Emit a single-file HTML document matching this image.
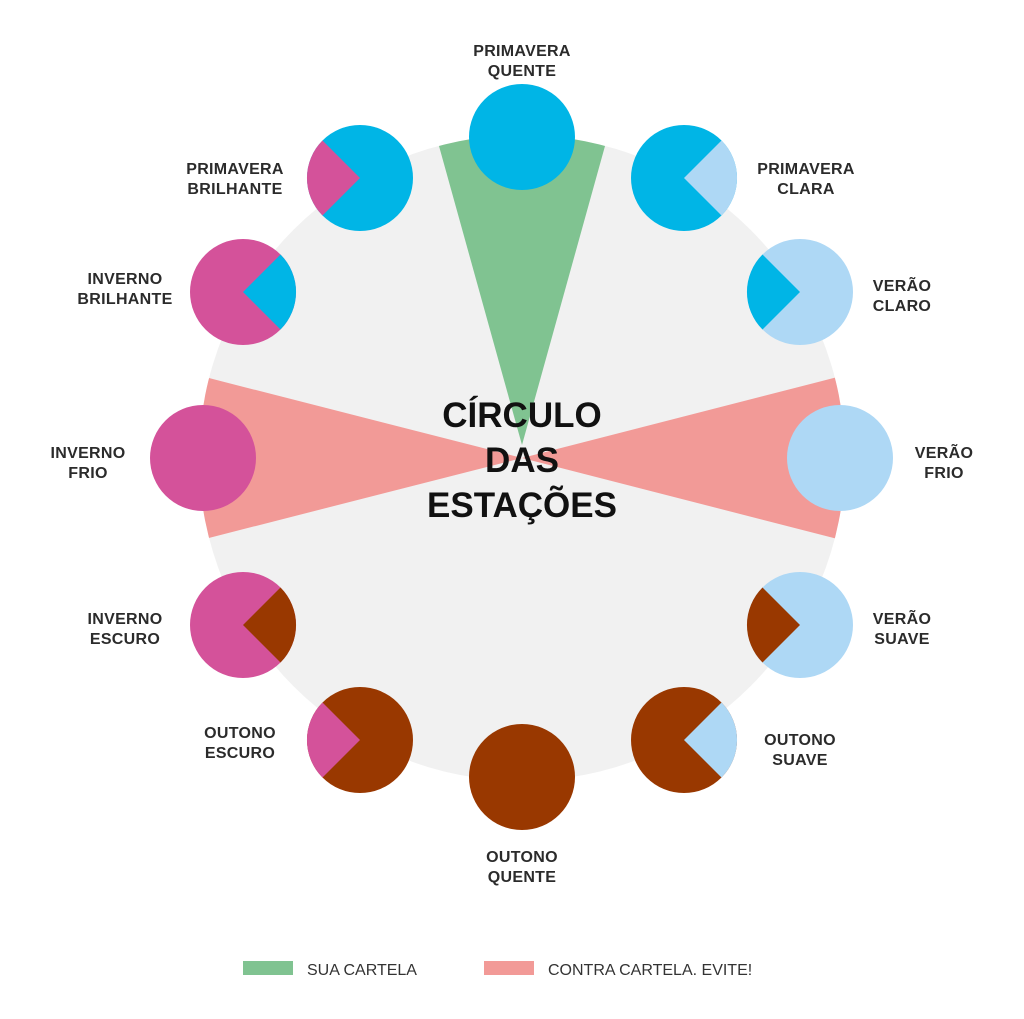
<!DOCTYPE html>
<html><head><meta charset="utf-8"><style>
html,body{margin:0;padding:0;background:#fff;}
svg{display:block;}
.l{font-family:"Liberation Sans",sans-serif;font-weight:bold;font-size:16px;fill:#2b2b2b;text-anchor:middle;letter-spacing:0.3px;}
.t{font-family:"Liberation Sans",sans-serif;font-weight:bold;font-size:35px;fill:#111;text-anchor:middle;}
.g{font-family:"Liberation Sans",sans-serif;font-size:16px;fill:#333;}
</style></head><body>
<svg width="1024" height="1019" viewBox="0 0 1024 1019" xmlns="http://www.w3.org/2000/svg">
<defs><clipPath id="bc"><circle cx="522" cy="458" r="323"/></clipPath></defs>
<circle cx="522" cy="458" r="323" fill="#f1f1f1"/>
<g clip-path="url(#bc)">
<polygon points="522,445 429,110 615,110" fill="#80c391"/>
<polygon points="522,458 150,363 150,553" fill="#f29a97"/>
<polygon points="522,458 900,361 900,555" fill="#f29a97"/>
</g>
<!-- Primavera Quente -->
<circle cx="522" cy="137" r="53" fill="#00b5e6"/>
<!-- Primavera Clara -->
<circle cx="684" cy="178" r="53" fill="#00b5e6"/>
<path d="M684 178 L721.5 140.5 A53 53 0 0 1 721.5 215.5 Z" fill="#aed8f5"/>
<!-- Verão Claro -->
<circle cx="800" cy="292" r="53" fill="#aed8f5"/>
<path d="M800 292 L762.5 329.5 A53 53 0 0 1 762.5 254.5 Z" fill="#00b5e6"/>
<!-- Verão Frio -->
<circle cx="840" cy="458" r="53" fill="#aed8f5"/>
<!-- Verão Suave -->
<circle cx="800" cy="625" r="53" fill="#aed8f5"/>
<path d="M800 625 L762.5 662.5 A53 53 0 0 1 762.5 587.5 Z" fill="#993800"/>
<!-- Outono Suave -->
<circle cx="684" cy="740" r="53" fill="#993800"/>
<path d="M684 740 L721.5 702.5 A53 53 0 0 1 721.5 777.5 Z" fill="#aed8f5"/>
<!-- Outono Quente -->
<circle cx="522" cy="777" r="53" fill="#993800"/>
<!-- Outono Escuro -->
<circle cx="360" cy="740" r="53" fill="#993800"/>
<path d="M360 740 L322.5 777.5 A53 53 0 0 1 322.5 702.5 Z" fill="#d4529a"/>
<!-- Inverno Escuro -->
<circle cx="243" cy="625" r="53" fill="#d4529a"/>
<path d="M243 625 L280.5 587.5 A53 53 0 0 1 280.5 662.5 Z" fill="#993800"/>
<!-- Inverno Frio -->
<circle cx="203" cy="458" r="53" fill="#d4529a"/>
<!-- Inverno Brilhante -->
<circle cx="243" cy="292" r="53" fill="#d4529a"/>
<path d="M243 292 L280.5 254.5 A53 53 0 0 1 280.5 329.5 Z" fill="#00b5e6"/>
<!-- Primavera Brilhante -->
<circle cx="360" cy="178" r="53" fill="#00b5e6"/>
<path d="M360 178 L322.5 215.5 A53 53 0 0 1 322.5 140.5 Z" fill="#d4529a"/>

<text class="t" x="522" y="427">CÍRCULO</text>
<text class="t" x="522" y="472">DAS</text>
<text class="t" x="522" y="517">ESTAÇÕES</text>

<text class="l" x="522" y="56">PRIMAVERA</text><text class="l" x="522" y="76">QUENTE</text>
<text class="l" x="806" y="174">PRIMAVERA</text><text class="l" x="806" y="194">CLARA</text>
<text class="l" x="902" y="291">VERÃO</text><text class="l" x="902" y="311">CLARO</text>
<text class="l" x="944" y="458">VERÃO</text><text class="l" x="944" y="478">FRIO</text>
<text class="l" x="902" y="624">VERÃO</text><text class="l" x="902" y="644">SUAVE</text>
<text class="l" x="800" y="745">OUTONO</text><text class="l" x="800" y="765">SUAVE</text>
<text class="l" x="522" y="862">OUTONO</text><text class="l" x="522" y="882">QUENTE</text>
<text class="l" x="240" y="738">OUTONO</text><text class="l" x="240" y="758">ESCURO</text>
<text class="l" x="125" y="624">INVERNO</text><text class="l" x="125" y="644">ESCURO</text>
<text class="l" x="88" y="458">INVERNO</text><text class="l" x="88" y="478">FRIO</text>
<text class="l" x="125" y="284">INVERNO</text><text class="l" x="125" y="304">BRILHANTE</text>
<text class="l" x="235" y="174">PRIMAVERA</text><text class="l" x="235" y="194">BRILHANTE</text>

<rect x="243" y="961" width="50" height="14" fill="#80c391"/>
<text class="g" x="307" y="975">SUA CARTELA</text>
<rect x="484" y="961" width="50" height="14" fill="#f29a97"/>
<text class="g" x="548" y="975">CONTRA CARTELA. EVITE!</text>
</svg>
</body></html>
